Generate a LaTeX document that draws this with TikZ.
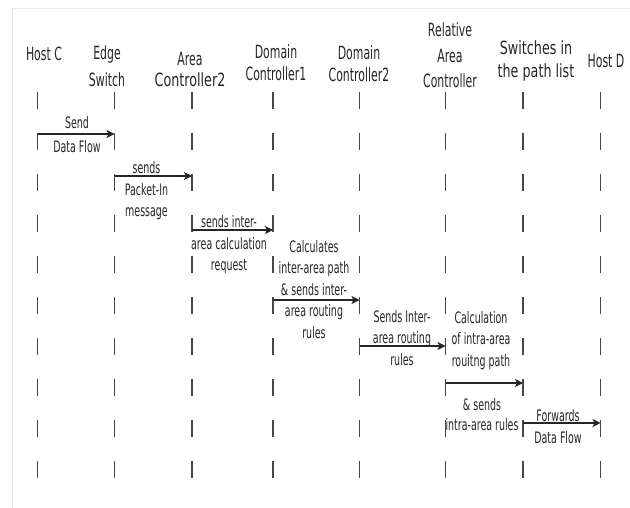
\documentclass[tikz,border=0pt]{standalone}
\usepackage{fontspec}
\setmainfont[FakeStretch=0.6]{DejaVu Sans}
\newfontfamily\widefont[FakeStretch=0.7]{DejaVu Sans}
\usetikzlibrary{arrows.meta}
\begin{document}
\begin{tikzpicture}[x=1pt,y=-1pt,
  hdr/.style={align=center, inner sep=0pt, text depth=0pt, text=black!85, font=\fontsize{18.2}{22}\selectfont},
  lbl/.style={align=center, inner sep=0pt, text depth=0pt, text=black!85, font=\fontsize{15.8}{21.5}\selectfont},
  life/.style={line width=1.8pt, draw=black!72, dash pattern=on 17pt off 24pt},
  msg/.style={line width=1.2pt, draw=black!85, -{Stealth[length=8pt,width=8pt,inset=2pt]}},
  frame/.style={draw=black!8, line width=0.8pt}
]
\useasboundingbox (0,0) rectangle (630,508);
\draw[frame] (12,508) -- (12,8) -- (630,8);

% headers
\node[hdr] (hC)  at (44,53.5)  {Host C};
\node[hdr] (hE)  at (107,66)   {Edge\\[4.5pt]Switch};
\node[hdr] (hA)  at (190,69.5) {Area\\[-1pt]{\widefont Controller2}};
\node[hdr] (hDa) at (276,63)   {Domain\\Controller1};
\node[hdr] (hDb) at (359,64)   {Domain\\Controller2};
\node[hdr] (hR)  at (450,55.5) {Relative\\[3.5pt]Area\\[3.5pt]Controller};
\node[hdr] (hS)  at (536,59.5) {{\widefont Switches in}\\[1pt]{\widefont the path list}};
\node[hdr] (hD)  at (606,61)   {Host D};

% lifelines
\foreach \n/\x in {C/37.5, E/114.5, A/192, Da/273, Db/359.5, R/445.5, S/523, D/600.5}{
  \coordinate (\n top) at (\x,92);
  \coordinate (\n bot) at (\x,478);
  \draw[life] (\n top) -- (\n bot);
}

% messages
\foreach \i/\a/\b/\y in {1/C/E/134, 2/E/A/176, 3/A/Da/230, 4/Da/Db/300, 5/Db/R/346, 6/R/S/383, 7/S/D/423}{
  \coordinate (m\i s) at (\a top |- 0,\y);
  \coordinate (m\i e) at (\b top |- 0,\y);
  \draw[msg] (m\i s) -- (m\i e);
}

% labels
\node[lbl] (t1) at (77,134.3)  {Send\\[2pt]Data Flow};
\node[lbl] (t2) at (146.5,189.3) {sends\\Packet-In\\message};
\node[lbl] (t3) at (229,243.2) {sends inter-\\area calculation\\request};
\node[lbl] (t4) at (314,289)   {Calculates\\inter-area path\\\& sends inter-\\area routing\\rules};
\node[lbl] (t5) at (402,337.5) {Sends Inter-\\area routing\\rules};
\node[lbl] (t6) at (481,338.5) {Calculation\\of intra-area\\rouitng path};
\node[lbl] (t7) at (482,414)   {\& sends\\[-1.5pt]intra-area rules};
\node[lbl] (t8) at (558,426.5) {Forwards\\[0.5pt]Data Flow};
\end{tikzpicture}
\end{document}
